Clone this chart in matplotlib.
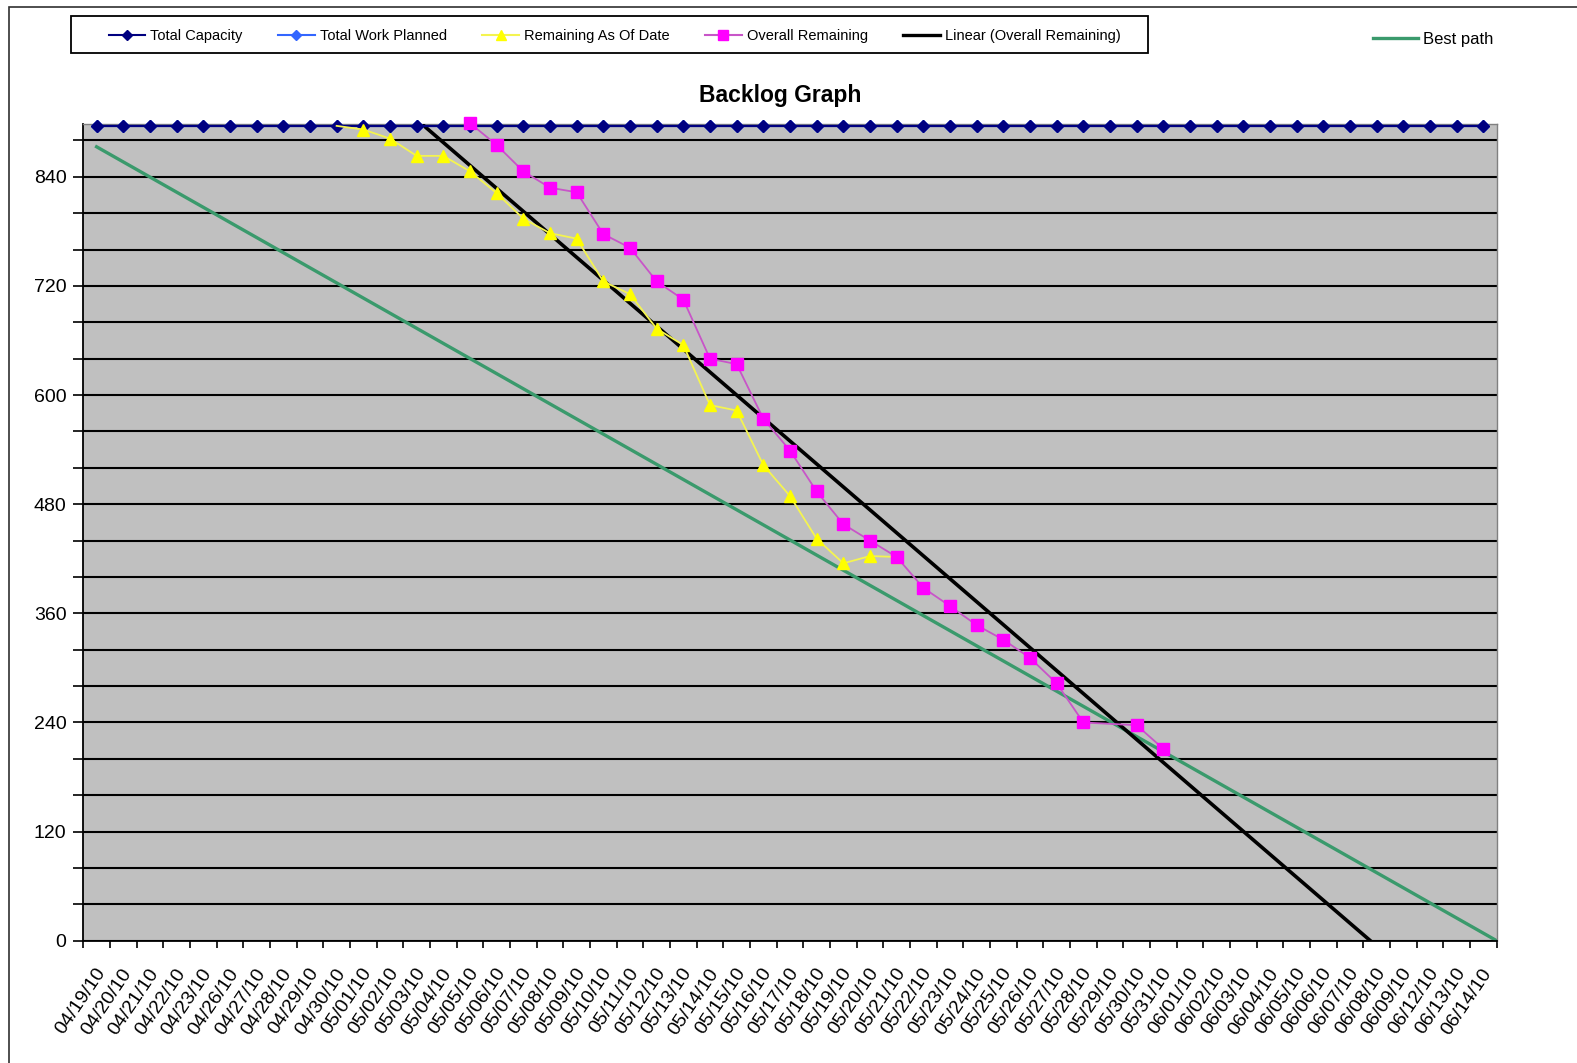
"""Backlog graph (burn-down) recreated with matplotlib."""

import matplotlib.pyplot as plt
import numpy as np
from matplotlib.lines import Line2D
from matplotlib.patches import Rectangle
from matplotlib.transforms import ScaledTranslation

plt.rcParams['font.family'] = ['Liberation Sans', 'DejaVu Sans']

FIGSIZE = (15.77, 10.63)
DPI = 100
AX_RECT = (0.0528, 0.1150, 0.8963, 0.7683)
Y_MAX = 898

DATES = [
    '04/19/10', '04/20/10', '04/21/10', '04/22/10', '04/23/10', '04/26/10',
    '04/27/10', '04/28/10', '04/29/10', '04/30/10', '05/01/10', '05/02/10',
    '05/03/10', '05/04/10', '05/05/10', '05/06/10', '05/07/10', '05/08/10',
    '05/09/10', '05/10/10', '05/11/10', '05/12/10', '05/13/10', '05/14/10',
    '05/15/10', '05/16/10', '05/17/10', '05/18/10', '05/19/10', '05/20/10',
    '05/21/10', '05/22/10', '05/23/10', '05/24/10', '05/25/10', '05/26/10',
    '05/27/10', '05/28/10', '05/29/10', '05/30/10', '05/31/10', '06/01/10',
    '06/02/10', '06/03/10', '06/04/10', '06/05/10', '06/06/10', '06/07/10',
    '06/08/10', '06/09/10', '06/12/10', '06/13/10', '06/14/10',
]

TOTAL_CAPACITY = [896] * len(DATES)
TOTAL_WORK_PLANNED = [896] * len(DATES)

nan = np.nan
REMAINING_AS_OF_DATE = [
    nan, nan, nan, nan, nan, nan, nan, nan, nan, 896,
    892, 882, 863, 863, 846, 822, 794, 778, 772, 725,
    711, 673, 655, 589, 583, 523, 489, 442, 415, 423,
    422, nan, nan, nan, nan, nan, nan, nan, nan, nan,
    nan, nan, nan, nan, nan, nan, nan, nan, nan, nan,
    nan, nan, nan,
]
OVERALL_REMAINING = [
    nan, nan, nan, nan, nan, nan, nan, nan, nan, nan,
    nan, nan, nan, nan, 899, 875, 846, 828, 823, 777,
    762, 725, 705, 640, 634, 574, 539, 494, 458, 440,
    422, 388, 368, 347, 331, 311, 283, 240, nan, 237,
    211, nan, nan, nan, nan, nan, nan, nan, nan, nan,
    nan, nan, nan,
]

# Linear trendline of Overall Remaining as shown in the chart (value per day index)
TREND_INTERCEPT = 1206
TREND_SLOPE = -25.25

# Best path: straight line from the first day down to zero at the end of the axis
BEST_PATH_VALUES = [873, 0]

Y_TICKS = list(range(0, 881, 40))
Y_LABEL_STEP = 120

TITLE = 'Backlog Graph'


def plot_series(ax, values, skip_first_marker=False, **kwargs):
    """Plot a series, skipping blank days but connecting the points."""
    vals = np.array(values, dtype=float)
    idx = np.arange(len(vals))
    mask = ~np.isnan(vals)
    if skip_first_marker:
        kwargs['markevery'] = list(range(1, int(mask.sum())))
    return ax.plot(idx[mask], vals[mask], clip_on=False, **kwargs)[0]


def main():
    fig = plt.figure(figsize=FIGSIZE, dpi=DPI)
    ax = fig.add_axes(AX_RECT)
    ax.set_facecolor('#C0C0C0')
    n = len(DATES)

    # best path and trend line
    ax.plot([0, n - 0.5], BEST_PATH_VALUES, color='#3A9A6C', lw=2.4, zorder=2)
    x_trend = np.array([-0.5, n - 0.5])
    ax.plot(x_trend, TREND_INTERCEPT + TREND_SLOPE * x_trend,
            color='black', lw=2.6, zorder=3)

    plot_series(ax, TOTAL_WORK_PLANNED, color='#3366FF', lw=1.5,
                marker='D', ms=6, mfc='#3366FF', mec='#3366FF', zorder=4)
    plot_series(ax, TOTAL_CAPACITY, color='#000080', lw=1.6,
                marker='D', ms=6, mfc='#000080', mec='#000080', zorder=5)
    plot_series(ax, REMAINING_AS_OF_DATE, skip_first_marker=True,
                color='#F4F450', lw=1.3, marker='^', ms=8.5,
                mfc='#FFFF00', mec='#FFFF00', zorder=6)
    plot_series(ax, OVERALL_REMAINING, color='#C855C8', lw=1.3,
                marker='s', ms=8.5, mfc='#FF00FF', mec='#FF00FF', zorder=7)

    ax.set_xlim(-0.5, n - 0.5)
    ax.set_ylim(0, Y_MAX)

    ax.set_xticks(range(n))
    ax.set_xticklabels(DATES, rotation=56, ha='right', va='center',
                       rotation_mode='anchor', fontsize=14)
    ax.tick_params(axis='x', which='major', length=0, pad=21)
    shift = ScaledTranslation(5 / DPI, 0, fig.dpi_scale_trans)
    for label in ax.get_xticklabels():
        label.set_transform(label.get_transform() + shift)
    ax.set_xticks(np.arange(-0.5, n, 1), minor=True)
    ax.tick_params(axis='x', which='minor', length=5, width=1.2,
                   direction='out', color='black')

    ax.set_yticks(Y_TICKS)
    ax.set_yticklabels([str(t) if t % Y_LABEL_STEP == 0 else ''
                        for t in Y_TICKS], fontsize=14)
    ax.tick_params(axis='y', length=7, width=1.2, pad=5, color='black')
    ax.grid(axis='y', color='black', lw=1.5)
    ax.set_axisbelow(True)

    for side in ('left', 'bottom'):
        ax.spines[side].set_color('black')
        ax.spines[side].set_linewidth(1.3)
    for side in ('top', 'right'):
        ax.spines[side].set_color('#808080')
        ax.spines[side].set_linewidth(1.0)

    fig.text(780 / 1577, 1 - 95.5 / 1063, TITLE, ha='center', va='center',
             fontsize=16.5, fontweight='bold')

    # outer chart border and legend box
    fig.patches.append(Rectangle((9 / 1577, -0.1), 1.2, 1 - 7 / 1063 + 0.1,
                                 transform=fig.transFigure, fill=False,
                                 edgecolor='#303030', lw=1.2))
    fig.patches.append(Rectangle((70.5 / 1577, 1 - 52.5 / 1063),
                                 1077 / 1577, 36.5 / 1063,
                                 transform=fig.transFigure, fill=False,
                                 edgecolor='black', lw=1.3))

    handles = [
        Line2D([], [], color='#000080', lw=1.5, marker='D', ms=5.5,
               mfc='#000080', mec='#000080'),
        Line2D([], [], color='#3366FF', lw=1.5, marker='D', ms=5.5,
               mfc='#3366FF', mec='#3366FF'),
        Line2D([], [], color='#F4F450', lw=1.5, marker='^', ms=6.5,
               mfc='#FFFF00', mec='#FFFF00'),
        Line2D([], [], color='#C855C8', lw=1.5, marker='s', ms=6.5,
               mfc='#FF00FF', mec='#FF00FF'),
        Line2D([], [], color='black', lw=2.4),
    ]
    labels = ['Total Capacity', 'Total Work Planned', 'Remaining As Of Date',
              'Overall Remaining', 'Linear (Overall Remaining)']
    fig.legend(handles, labels, loc='center left',
               bbox_to_anchor=(108.6 / 1577, 1 - 36 / 1063), ncol=5,
               frameon=False, fontsize=10.5, handlelength=2.5,
               handletextpad=0.35, columnspacing=2.44, borderpad=0,
               borderaxespad=0)

    fig.legend([Line2D([], [], color='#3A9A6C', lw=2.4)], ['Best path'],
               loc='center left', bbox_to_anchor=(1373 / 1577, 1 - 39.5 / 1063),
               frameon=False, fontsize=12, handlelength=2.7,
               handletextpad=0.3, borderpad=0, borderaxespad=0)

    fig.savefig('out.png', dpi=DPI)
    plt.close(fig)


if __name__ == '__main__':
    main()
